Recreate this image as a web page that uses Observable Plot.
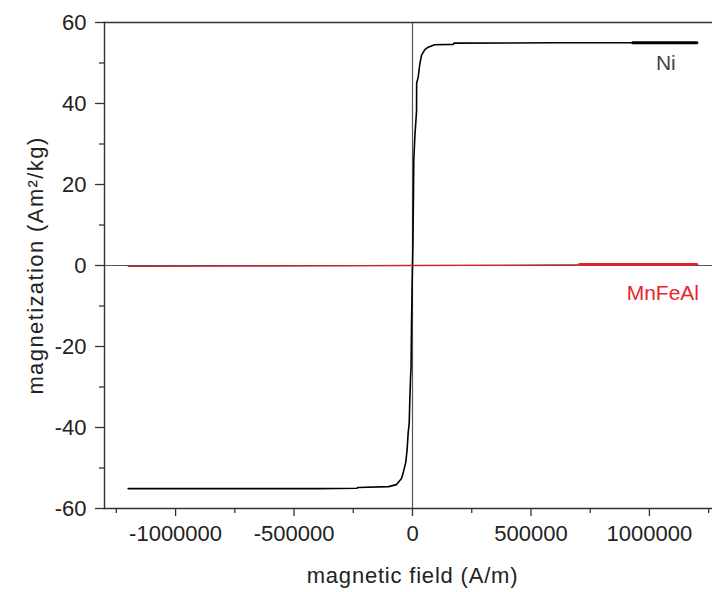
<!DOCTYPE html>
<html><head><meta charset="utf-8">
<script src="https://cdn.jsdelivr.net/npm/d3@7"></script>
<script src="https://cdn.jsdelivr.net/npm/@observablehq/plot@0.6"></script>
<style>html,body{margin:0;padding:0;background:#fff;} #chart svg{display:block;}</style>
</head><body><div id="chart"></div>
<script>
// Ni hysteresis curve (field in A/m, magnetization in Am²/kg)
const niField = [-1200000, -800000, -400000, -235000, -230000, -101000, -67500, -46400, -36700, -28300, -22400, -18100, -13900, -11400, -8400, -6000, -4200, -2000, 0, 2000, 3000, 4500, 5500, 10000, 17000, 17500, 24000, 31000, 38000, 52000, 66000, 93000, 172000, 175000, 600000, 1200000];
const niMag   = [-55.1, -55.1, -55.1, -55.0, -54.8, -54.6, -54.1, -52.6, -50.6, -48.6, -45.2, -41.2, -39.0, -33.3, -28.0, -25.0, -15.0, -6.0, 0, 6.0, 12.0, 20.0, 26.0, 32.0, 38.0, 45.0, 46.5, 49.8, 51.9, 53.3, 53.9, 54.5, 54.6, 54.9, 55.0, 55.0];
// initial (start of measurement) segment, drawn heavier
const niStartField = [930000, 1200000];
const niStartMag   = [55.0, 55.0];

// MnFeAl curve
const mnField = [-1200000, -600000, 0, 600000, 1200000];
const mnMag   = [-0.2, -0.15, 0, 0.15, 0.2];
const mnStartField = [705000, 1200000];
const mnStartMag   = [0.25, 0.25];

const xTicks = [-1000000, -500000, 0, 500000, 1000000];
const xMinorTicks = [-1250000, -750000, -250000, 250000, 750000, 1250000];
const yTicks = [-60, -40, -20, 0, 20, 40, 60];
const yMinorTicks = [-50, -30, -10, 10, 30, 50];
const seriesNames = ["Ni", "MnFeAl"];
const seriesColors = ["#000000", "#c8262a"];
const labelColors = ["#444444", "#e8262a"];
const xTitle = "magnetic field (A/m)";
const yTitle = "magnetization (Am²/kg)";

const zip = (xs, ys) => xs.map((x, i) => ({x, y: ys[i]}));
const ni = zip(niField, niMag);
const niStart = zip(niStartField, niStartMag);
const mn = zip(mnField, mnMag);
const mnStart = zip(mnStartField, mnStartMag);

const axisColor = "#333";
const plot = Plot.plot({
  width: 712,
  height: 592,
  marginLeft: 104,
  marginRight: -8,
  marginTop: 22,
  marginBottom: 84,
  style: {fontFamily: "'Liberation Sans', Arial, sans-serif", fontSize: "22px", color: "#222", background: "#fff"},
  x: {domain: [-1300000, 1300000]},
  y: {domain: [-60, 60]},
  marks: [
    Plot.ruleY([0], {stroke: "#555", strokeWidth: 1.2}),
    Plot.ruleX([0], {stroke: "#555", strokeWidth: 1.2}),
    Plot.line(ni, {x: "x", y: "y", stroke: seriesColors[0], strokeWidth: 1.6}),
    Plot.line(niStart, {x: "x", y: "y", stroke: seriesColors[0], strokeWidth: 3.2}),
    Plot.line(mn, {x: "x", y: "y", stroke: seriesColors[1], strokeWidth: 1.3}),
    Plot.line(mnStart, {x: "x", y: "y", stroke: "#d8262a", strokeWidth: 3}),
    Plot.frame({anchor: "top", stroke: axisColor, strokeWidth: 1.4}),
    Plot.frame({anchor: "left", stroke: axisColor, strokeWidth: 1.4}),
    Plot.frame({anchor: "bottom", stroke: axisColor, strokeWidth: 1.4}),
    Plot.axisX({ticks: xTicks, tickSize: 8, tickPadding: 9, tickFormat: d => String(d), label: null, stroke: axisColor, strokeWidth: 1.3, fill: "#222", fontSize: 22}),
    Plot.axisX({ticks: xMinorTicks, tickSize: 5, tickFormat: () => "", label: null, stroke: axisColor, strokeWidth: 1.3}),
    Plot.axisY({ticks: yTicks, tickSize: 9, tickPadding: 9, tickFormat: d => String(d), label: null, stroke: axisColor, strokeWidth: 1.3, fill: "#222", fontSize: 22}),
    Plot.axisY({ticks: yMinorTicks, tickSize: 5, tickFormat: () => "", label: null, stroke: axisColor, strokeWidth: 1.3}),
    Plot.text([xTitle], {frameAnchor: "bottom", textAnchor: "middle", dy: 67, fontSize: 22, fill: "#222", lineAnchor: "middle"}),
    Plot.text([yTitle], {frameAnchor: "left", textAnchor: "middle", rotate: -90, dx: -69, fontSize: 22, fill: "#222", lineAnchor: "middle"}),
    Plot.text([ni[ni.length - 1]], {x: "x", y: "y", text: () => seriesNames[0], dx: -31, dy: 21, fontSize: 21, fill: labelColors[0], lineAnchor: "middle"}),
    Plot.text([mn[mn.length - 1]], {x: "x", y: "y", text: () => seriesNames[1], dx: -34, dy: 29, fontSize: 21, fill: labelColors[1], lineAnchor: "middle"})
  ]
});
// slight letter spacing on the axis titles, as in the original
const svgSel = d3.select(plot);
svgSel.selectAll("text").filter(function() { return this.textContent === xTitle; }).style("letter-spacing", "0.8px");
svgSel.selectAll("text").filter(function() { return this.textContent === yTitle; }).style("letter-spacing", "1.4px");
document.getElementById("chart").appendChild(plot);
</script>
</body></html>
